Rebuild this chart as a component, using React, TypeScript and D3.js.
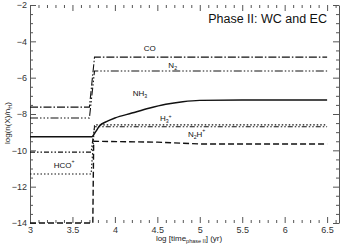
import React, { useEffect, useRef } from 'react';
import * as d3 from 'd3';

// series: [log time, log abundance]
const coPts: [number, number][] = [[3, -7.62], [3.7, -7.62], [3.76, -4.87], [6.5, -4.87]];
const n2Pts: [number, number][] = [[3, -8.22], [3.7, -8.22], [3.76, -5.63], [6.5, -5.63]];
const nh3Pts: [number, number][] = [
  [3, -9.25], [3.73, -9.25], [3.77, -9.0], [3.82, -8.65], [3.9, -8.42], [4.0, -8.22],
  [4.2, -7.95], [4.4, -7.68], [4.6, -7.46], [4.8, -7.32], [5.0, -7.25], [5.5, -7.23], [6.5, -7.23],
];
const h3pPts: [number, number][] = [[3, -10.1], [3.72, -10.1], [3.76, -8.7], [6.5, -8.7]];
const hcopPts: [number, number][] = [[3, -11.3], [3.72, -11.3], [3.76, -8.6], [6.5, -8.6]];
const n2hpPts: [number, number][] = [[3, -14], [3.74, -14], [3.75, -9.5], [4.5, -9.55], [5.0, -9.65], [6.5, -9.65]];

const xMajor = [3, 3.5, 4, 4.5, 5, 5.5, 6, 6.5];
const yMajor = [-2, -4, -6, -8, -10, -12, -14];

const W = 345;
const H = 249;
const m = { left: 30, right: 6, top: 5, bottom: 26 };

export default function App() {
  const ref = useRef<SVGSVGElement>(null);

  useEffect(() => {
    const svg = d3.select(ref.current);
    svg.selectAll('*').remove();
    const x = d3.scaleLinear().domain([3, 6.64]).range([m.left, W - m.right]);
    const y = d3.scaleLinear().domain([-14, -2]).range([H - m.bottom, m.top]);
    const font = 'Liberation Sans, Arial, sans-serif';

    const xMinor = d3.range(30, 67).map(v => v / 10).filter(v => !xMajor.some(t => Math.abs(t - v) < 1e-6));
    const yMinor = d3.range(-28, -3).map(v => v / 2).filter(v => !yMajor.includes(v));

    const style = (g: any, keepDomain: boolean) => {
      g.selectAll('text').attr('font-family', font).attr('font-size', 9).attr('fill', '#333');
      g.selectAll('line').attr('stroke', '#555');
      if (keepDomain) g.select('.domain').attr('stroke', '#555');
      else g.select('.domain').remove();
    };

    // bottom
    svg.append('g').attr('transform', `translate(0,${H - m.bottom})`)
      .call(d3.axisBottom(x).tickValues(xMajor).tickSize(-6).tickPadding(4).tickFormat(d3.format('')))
      .call(g => style(g, false));
    svg.append('g').attr('transform', `translate(0,${H - m.bottom})`)
      .call(d3.axisBottom(x).tickValues(xMinor).tickSize(-3).tickFormat(() => ''))
      .call(g => style(g, false));
    // top
    svg.append('g').attr('transform', `translate(0,${m.top})`)
      .call(d3.axisTop(x).tickValues(xMajor).tickSize(-6).tickFormat(() => ''))
      .call(g => style(g, false));
    svg.append('g').attr('transform', `translate(0,${m.top})`)
      .call(d3.axisTop(x).tickValues(xMinor).tickSize(-3).tickFormat(() => ''))
      .call(g => style(g, false));
    // left
    svg.append('g').attr('transform', `translate(${m.left},0)`)
      .call(d3.axisLeft(y).tickValues(yMajor).tickSize(-6).tickPadding(3).tickSizeOuter(0).tickFormat(d3.format('')))
      .call(g => style(g, true));
    svg.append('g').attr('transform', `translate(${m.left},0)`)
      .call(d3.axisLeft(y).tickValues(yMinor).tickSize(-3).tickSizeOuter(0).tickFormat(() => ''))
      .call(g => style(g, false));
    // right
    svg.append('g').attr('transform', `translate(${W - m.right},0)`)
      .call(d3.axisRight(y).tickValues(yMajor).tickSize(-6).tickSizeOuter(0).tickFormat(() => ''))
      .call(g => style(g, true));
    svg.append('g').attr('transform', `translate(${W - m.right},0)`)
      .call(d3.axisRight(y).tickValues(yMinor).tickSize(-3).tickSizeOuter(0).tickFormat(() => ''))
      .call(g => style(g, false));

    const line = d3.line<[number, number]>().x(d => x(d[0])).y(d => y(d[1]));
    const lineSmooth = d3.line<[number, number]>().x(d => x(d[0])).y(d => y(d[1])).curve(d3.curveMonotoneX);

    const series = [
      { pts: coPts, dash: '8,2,1.5,2', w: 1.1, gen: line },
      { pts: n2Pts, dash: '8,2,1.5,2,1.5,2,1.5,2', w: 1.1, gen: line },
      { pts: nh3Pts, dash: null, w: 1.5, gen: lineSmooth },
      { pts: h3pPts, dash: '5,2,1.5,2,1.5,2', w: 1.1, gen: line },
      { pts: hcopPts, dash: '1.5,2', w: 1.1, gen: line },
      { pts: n2hpPts, dash: '6,3', w: 1.4, gen: line },
    ];
    series.forEach(s => {
      svg.append('path').attr('d', s.gen(s.pts) as string).attr('fill', 'none')
        .attr('stroke', '#111').attr('stroke-width', s.w)
        .attr('stroke-dasharray', s.dash);
    });

    const lab = (tx: number, ty: number, parts: [string, string][], size = 8) => {
      const t = svg.append('text').attr('x', x(tx)).attr('y', y(ty))
        .attr('font-family', font).attr('font-size', size).attr('fill', '#111');
      parts.forEach(([txt, k]) => {
        const sp = t.append('tspan').text(txt);
        if (k === 'sub') sp.attr('font-size', size * 0.65).attr('dy', 2);
        if (k === 'sup') sp.attr('font-size', size * 0.65).attr('dy', -5);
        if (k === 'back') sp.attr('dy', 3);
        if (k === 'up') sp.attr('dy', -2);
      });
    };
    lab(4.34, -4.55, [['CO', '']]);
    lab(4.63, -5.45, [['N', ''], ['2', 'sub']]);
    lab(4.21, -7.0, [['NH', ''], ['3', 'sub']]);
    lab(4.53, -8.37, [['H', ''], ['3', 'sub'], ['+', 'sup']]);
    lab(4.86, -9.24, [['N', ''], ['2', 'sub'], ['H', 'up'], ['+', 'sup']]);
    lab(3.28, -10.95, [['HCO', ''], ['+', 'sup']]);

    svg.append('text').attr('x', 327).attr('y', 23).attr('text-anchor', 'end')
      .attr('font-family', font).attr('font-size', 12.5).attr('fill', '#111')
      .text('Phase II: WC and EC');

    // x title
    const xt = svg.append('text').attr('x', 189).attr('y', 241).attr('text-anchor', 'middle')
      .attr('font-family', font).attr('font-size', 8).attr('fill', '#222');
    xt.append('tspan').text('log [time');
    xt.append('tspan').text('phase II').attr('font-size', 5.5).attr('dy', 2);
    xt.append('tspan').text('] (yr)').attr('dy', -2);

    // y title
    const yt = svg.append('text').attr('transform', `translate(10,${y(-8.5)}) rotate(-90)`)
      .attr('text-anchor', 'middle')
      .attr('font-family', font).attr('font-size', 8).attr('fill', '#222');
    yt.append('tspan').text('log(n(X)/n');
    yt.append('tspan').text('H').attr('font-size', 5.5).attr('dy', 2);
    yt.append('tspan').text(')').attr('dy', -2);
  }, []);

  return (
    <svg ref={ref} width={W} height={H}
      style={{ position: 'absolute', left: 0, top: 0, background: '#fff' }} />
  );
}
